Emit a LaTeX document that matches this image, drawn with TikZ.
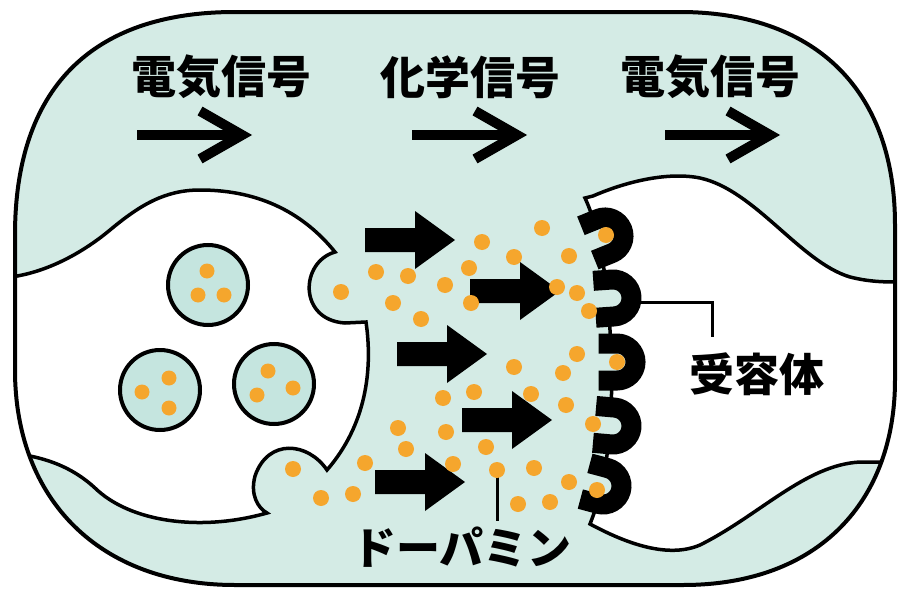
\documentclass[tikz,border=0pt]{standalone}
\usepackage{fontspec}
\usepackage{tikz}
\newfontfamily\jpfont{Noto Sans CJK JP}
\definecolor{mint}{HTML}{D4EBE5}
\definecolor{vesmint}{HTML}{C5E5DF}
\definecolor{dopa}{HTML}{F5A62D}

\begin{document}
\begin{tikzpicture}[x=1pt,y=-1pt,
    membrane/.style={line width=3.5pt},
    vesicle/.style={fill=vesmint,draw=black,line width=4pt},
    signal/.style={line width=10pt,miter limit=10},
    leader/.style={line width=3pt},
    jptext/.style={inner sep=0pt,font=\jpfont\bfseries\fontsize{45pt}{45pt}\selectfont},
    receptor/.pic={
      \fill[mint] (-18.5pt,18.5pt) -- (0pt,18.5pt) arc[start angle=90,end angle=-90,radius=18.5pt] -- (-18.5pt,-18.5pt) -- cycle;
      \draw[line width=20pt] (-18.5pt,18.5pt) -- (0pt,18.5pt) arc[start angle=90,end angle=-90,radius=18.5pt] -- (-18.5pt,-18.5pt);
    }]
  \useasboundingbox (0,0) rectangle (898,589);

  % outline of the two cells
  \def\outline{(15,235) .. controls (15,90) and (90,12) .. (235,12) -- (680,12)
    .. controls (810,12) and (895,85) .. (895,225) -- (895,380)
    .. controls (895,500) and (820,585) .. (683,585) -- (235,585)
    .. controls (100,585) and (15,500) .. (15,370) -- cycle}
  \fill[mint] \outline;
  \begin{scope}
    \clip \outline;
    % presynaptic terminal
    \filldraw[fill=white,membrane] (0,278) .. controls (40,276) and (80,255) .. (110,230)
      .. controls (140,205) and (165,190) .. (200,190)
      .. controls (262,190) and (305,215) .. (335,252)
      .. controls (300,262) and (298,320) .. (345,323) -- (366,322)
      .. controls (373,370) and (366,425) .. (327,470)
      .. controls (308,442) and (268,438) .. (255,476)
      .. controls (250,495) and (258,508) .. (267,513)
      .. controls (200,532) and (130,522) .. (95,488)
      .. controls (70,465) and (40,455) .. (0,452) -- cycle;
    % postsynaptic side
    \filldraw[fill=white,membrane] (585,198) -- (593,196)
      .. controls (630,180) and (670,172) .. (700,178)
      .. controls (755,190) and (800,262) .. (850,277)
      .. controls (870,282) and (885,282) .. (900,282) -- (900,462) -- (860,462)
      .. controls (805,465) and (760,515) .. (700,545)
      .. controls (665,560) and (620,540) .. (590,524)
      .. controls (612,470) and (614,390) .. (610,330)
      .. controls (607,280) and (600,230) .. (585,198) -- cycle;
  \end{scope}
  \draw[line width=4pt] \outline;

  % vesicles
  \foreach \x/\y in {208/285, 160/390, 274/384}
    \draw[vesicle] (\x,\y) circle[radius=40pt];
  \foreach \x/\y in {207/271, 198/295, 224/295, 142/392, 169/378, 169/408, 268/371, 257/395, 293/388}
    \fill[dopa] (\x,\y) circle[radius=7.5pt];

  % release arrows
  \foreach \x/\y in {365/240, 470/291, 397/354, 462/420, 375/482}
    \fill (\x,\y) ++(0,-12) -- ++(50,0) -- ++(0,-17) -- ++(40,29) -- ++(-40,29) -- ++(0,-17) -- ++(-50,0) -- cycle;

  % receptors
  \pic[rotate=22] at (605,236) {receptor};
  \pic[rotate=4] at (613,298) {receptor};
  \pic at (617,362) {receptor};
  \pic[rotate=-5] at (613,426) {receptor};
  \pic[rotate=-15] at (603,486) {receptor};

  % labels
  \node[jptext] (sig1) at (221,77) {電気信号};
  \node[jptext] (sig2) at (470,77) {化学信号};
  \node[jptext] (sig3) at (710,77) {電気信号};
  \node[jptext] (receptor text) at (757,374) {受容体};
  \node[jptext,font=\jpfont\bfseries\fontsize{44pt}{44pt}\selectfont] (dopamine text) at (462,547) {ドーパミン};

  \coordinate (rec edge) at (641,302);
  \coordinate (rec lead) at (712,337);
  \draw[leader] (rec edge) -| (rec lead);
  \coordinate (dopa dot) at (497,470);
  \coordinate (dopa lead) at (497,521);
  \draw[leader] (dopa dot) -- (dopa lead);

  % dopamine in the cleft
  \foreach \x/\y in {482/242, 542/228, 514/257, 569/256, 376/272, 408/276, 469/268, 445/285,
      341/292, 393/303, 471/303, 557/287, 577/293, 589/311, 421/319, 606/235,
      514/367, 577/354, 563/373, 617/362, 474/392, 443/398, 531/394, 566/405,
      593/424, 398/428, 446/432, 406/449, 486/447, 365/463, 453/464, 497/470,
      534/468, 569/482, 597/490, 321/498, 353/494, 518/504, 550/502, 293/469}
    \fill[dopa] (\x,\y) circle[radius=8pt];

  % signal direction
  \foreach \x in {137,412,665} {
    \draw[signal] (\x,135) -- ++(105,0);
    \draw[signal] (\x+63,111) -- (\x+105,135) -- (\x+63,159);
  }
\end{tikzpicture}
\end{document}
